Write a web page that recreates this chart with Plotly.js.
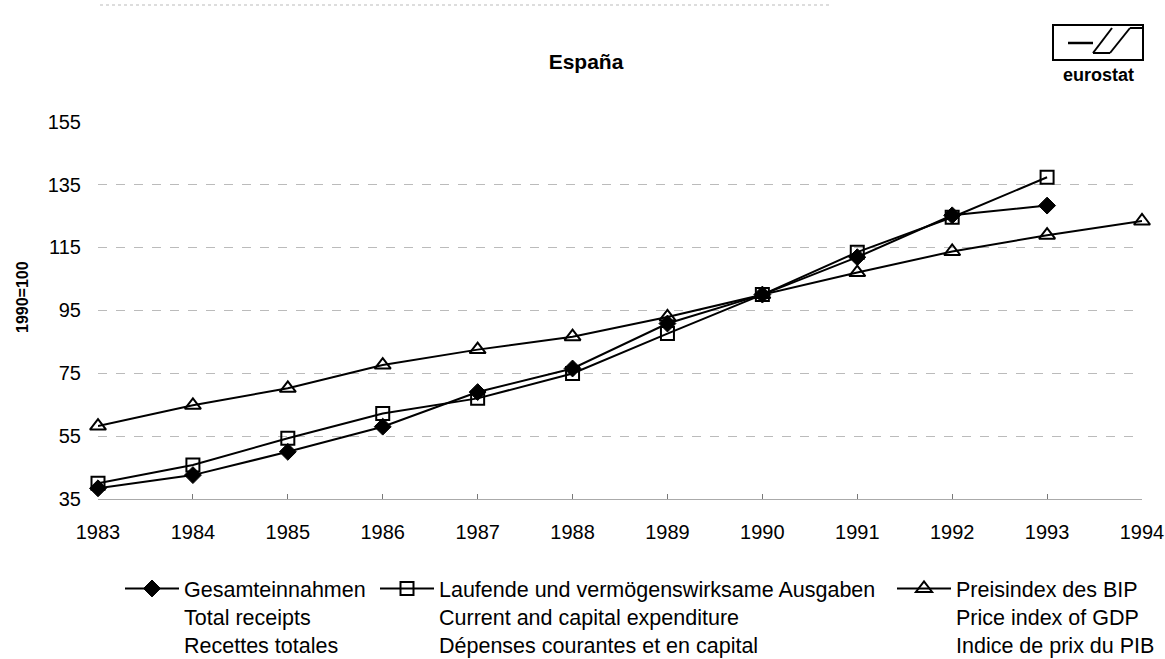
<!DOCTYPE html>
<html>
<head>
<meta charset="utf-8">
<script src="https://cdn.plot.ly/plotly-3.0.1.min.js"></script>
<style>html,body{margin:0;padding:0;background:#fff;}#chart{width:1165px;height:659px;}</style>
</head>
<body>
<div id="chart"></div>
<script>
// ---- data ----
var years = [1983, 1984, 1985, 1986, 1987, 1988, 1989, 1990, 1991, 1992, 1993, 1994];
var totalReceipts = [38.4, 42.6, 50.0, 58.0, 69.0, 76.5, 90.8, 100, 111.9, 125.2, 128.3, null];
var expenditure   = [40.0, 45.8, 54.3, 62.2, 67.0, 74.9, 87.6, 100, 113.5, 124.6, 137.3, null];
var priceIndex    = [58.2, 64.8, 70.2, 77.6, 82.5, 86.6, 92.9, 100, 107.0, 113.7, 118.9, 123.4];
var yTicks = [35, 55, 75, 95, 115, 135, 155];
var nameReceipts = 'Gesamteinnahmen<br>Total receipts<br>Recettes totales';
var nameExpend = 'Laufende und vermögenswirksame Ausgaben<br>Current and capital expenditure<br>Dépenses courantes et en capital';
var namePrice = 'Preisindex des BIP<br>Price index of GDP<br>Indice de prix du PIB';
var yAxisTitle = '1990=100';

// ---- layout geometry (pixels) ----
var W = 1165, H = 659;
var L = 98, R = 23, T = 121, B = 160;
var pw = W - L - R, ph = H - T - B;
function px(x) { return (x - L) / pw; }
function py(y) { return (H - B - y) / ph; }

var FONT = 'Liberation Sans, Arial, Helvetica, sans-serif';

var traces = [
  {x: years, y: totalReceipts, name: nameReceipts, type: 'scatter', mode: 'lines+markers',
   line: {color: '#000', width: 2}, cliponaxis: false, legend: 'legend',
   marker: {symbol: 'diamond', size: 13, color: '#000', line: {color: '#000', width: 1}}},
  {x: years, y: expenditure, name: nameExpend, type: 'scatter', mode: 'lines+markers',
   line: {color: '#000', width: 2}, cliponaxis: false, legend: 'legend2',
   marker: {symbol: 'square-open', size: 13, color: '#000', line: {color: '#000', width: 2}}},
  {x: years, y: priceIndex, name: namePrice, type: 'scatter', mode: 'lines+markers',
   line: {color: '#000', width: 2}, cliponaxis: false, legend: 'legend3',
   marker: {symbol: 'triangle-up-open', size: 14, color: '#000', line: {color: '#000', width: 2}}}
];

function legendAt(xpix) {
  return {x: px(xpix), xanchor: 'left', y: py(568), yanchor: 'top', orientation: 'v',
          bgcolor: 'rgba(0,0,0,0)', borderwidth: 0, valign: 'top', itemwidth: 54,
          font: {family: FONT, size: 21.5, color: '#000'}, tracegroupgap: 0};
}

var shapes = [
  // faint scanning line at top
  {type: 'line', xref: 'paper', yref: 'paper', x0: px(100), x1: px(830), y0: py(5), y1: py(5),
   line: {color: '#bbb', width: 1, dash: 'dot'}},
  // eurostat logo
  {type: 'rect', xref: 'paper', yref: 'paper', x0: px(1053), x1: px(1143), y0: py(60), y1: py(25),
   line: {color: '#000', width: 2}},
  {type: 'line', xref: 'paper', yref: 'paper', x0: px(1068), x1: px(1093), y0: py(43), y1: py(43),
   line: {color: '#000', width: 2.5}},
  {type: 'line', xref: 'paper', yref: 'paper', x0: px(1093), x1: px(1112), y0: py(53), y1: py(28),
   line: {color: '#000', width: 2}},
  {type: 'line', xref: 'paper', yref: 'paper', x0: px(1110), x1: px(1130), y0: py(53), y1: py(28),
   line: {color: '#000', width: 2}},
  {type: 'line', xref: 'paper', yref: 'paper', x0: px(1093), x1: px(1110), y0: py(53), y1: py(53),
   line: {color: '#000', width: 2}},
  {type: 'line', xref: 'paper', yref: 'paper', x0: px(1130), x1: px(1143), y0: py(28), y1: py(28),
   line: {color: '#000', width: 2}}
];

var layout = {
  width: W, height: H,
  margin: {l: L, r: R, t: T, b: B, pad: 0, autoexpand: false},
  paper_bgcolor: '#fff', plot_bgcolor: '#fff',
  font: {family: FONT, color: '#000', size: 20},
  title: {text: '<b>España</b>', x: 586 / W, xref: 'container', xanchor: 'center',
          y: 1 - 62 / H, yref: 'container', yanchor: 'middle',
          font: {family: FONT, size: 21, color: '#000'}},
  xaxis: {range: [1983, 1994], tickmode: 'array', tickvals: years, ticktext: years.map(String),
          showgrid: false, zeroline: false, showline: true, linecolor: '#aaa', linewidth: 1,
          ticks: 'inside', ticklen: 5, tickcolor: '#777', ticklabelstandoff: 15,
          tickfont: {family: FONT, size: 20, color: '#000'}, fixedrange: true},
  yaxis: {range: [35, 155.2], tickmode: 'array', tickvals: yTicks, ticktext: yTicks.map(String),
          showgrid: true, gridcolor: '#bbb', griddash: 'dash', gridwidth: 1,
          zeroline: false, showline: false, ticks: '', ticklabelstandoff: 16,
          tickfont: {family: FONT, size: 20, color: '#000'},
          fixedrange: true},
  showlegend: true,
  legend: legendAt(120),
  legend2: legendAt(375),
  legend3: legendAt(892),
  shapes: shapes,
  annotations: [
    {text: '<b>eurostat</b>', xref: 'paper', yref: 'paper', x: px(1098), y: py(75),
     xanchor: 'center', yanchor: 'middle', showarrow: false,
     font: {family: FONT, size: 18, color: '#000'}},
    {text: '<b>' + yAxisTitle + '</b>', xref: 'paper', yref: 'paper', x: px(22), y: py(297),
     xanchor: 'center', yanchor: 'middle', showarrow: false, textangle: -90,
     font: {family: FONT, size: 16, color: '#000'}}
  ]
};

Plotly.newPlot('chart', traces, layout, {staticPlot: true, displayModeBar: false});
</script>
</body>
</html>
